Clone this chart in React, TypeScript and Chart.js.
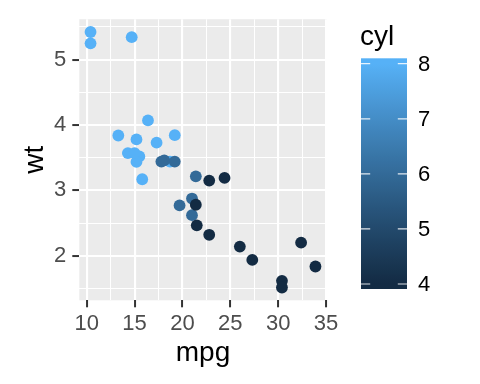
import React, { useEffect, useRef } from "react";
import { Chart, registerables } from "chart.js";

Chart.register(...registerables);

const mpg = [21, 21, 22.8, 21.4, 18.7, 18.1, 14.3, 24.4, 22.8, 19.2, 17.8, 16.4, 17.3, 15.2, 10.4, 10.4, 14.7, 32.4, 30.4, 33.9, 21.5, 15.5, 15.2, 13.3, 19.2, 27.3, 26, 30.4, 15.8, 19.7, 15, 21.4];
const wt = [2.62, 2.875, 2.32, 3.215, 3.44, 3.46, 3.57, 3.19, 3.15, 3.44, 3.44, 4.07, 3.73, 3.78, 5.25, 5.424, 5.345, 2.2, 1.615, 1.835, 2.465, 3.52, 3.435, 3.84, 3.845, 1.935, 2.14, 1.513, 3.17, 2.77, 3.57, 2.78];
const cyl = [6, 6, 4, 6, 8, 6, 8, 4, 4, 6, 6, 8, 8, 8, 8, 8, 8, 4, 4, 4, 4, 8, 8, 8, 8, 4, 4, 4, 8, 6, 8, 4];

const xMajor = [10, 15, 20, 25, 30, 35];
const xMinor = [12.5, 17.5, 22.5, 27.5, 32.5];
const yMajor = [2, 3, 4, 5];
const yMinor = [1.5, 2.5, 3.5, 4.5, 5.5];
const legendTicks = [4, 5, 6, 7, 8];

const LOW = "#132B43";
const HIGH = "#56B1F7";
const FONT = "'Liberation Sans', Arial, Helvetica, sans-serif";

// --- Lab interpolation (ggplot2 seq_gradient_pal style) ---
function hexToRgb(h: string) {
  return [1, 3, 5].map((i) => parseInt(h.slice(i, i + 2), 16) / 255);
}
function lin(c: number) { return c <= 0.04045 ? c / 12.92 : Math.pow((c + 0.055) / 1.055, 2.4); }
function gam(c: number) { return c <= 0.0031308 ? 12.92 * c : 1.055 * Math.pow(c, 1 / 2.4) - 0.055; }
const WX = 0.95047, WY = 1.0, WZ = 1.08883;
function rgbToLab(rgb: number[]) {
  const [r, g, b] = rgb.map(lin);
  const x = (r * 0.4124564 + g * 0.3575761 + b * 0.1804375) / WX;
  const y = (r * 0.2126729 + g * 0.7151522 + b * 0.072175) / WY;
  const z = (r * 0.0193339 + g * 0.119192 + b * 0.9503041) / WZ;
  const f = (t: number) => (t > 216 / 24389 ? Math.cbrt(t) : (24389 / 27 * t + 16) / 116);
  const fx = f(x), fy = f(y), fz = f(z);
  return [116 * fy - 16, 500 * (fx - fy), 200 * (fy - fz)];
}
function labToHex(lab: number[]) {
  const [L, a, bb] = lab;
  const fy = (L + 16) / 116, fx = fy + a / 500, fz = fy - bb / 200;
  const inv = (t: number) => (t * t * t > 216 / 24389 ? t * t * t : (116 * t - 16) / (24389 / 27));
  const x = inv(fx) * WX, y = inv(fy) * WY, z = inv(fz) * WZ;
  const r = x * 3.2404542 - y * 1.5371385 - z * 0.4985314;
  const g = -x * 0.969266 + y * 1.8760108 + z * 0.041556;
  const b = x * 0.0556434 - y * 0.2040259 + z * 1.0572252;
  const to = (c: number) => Math.round(Math.max(0, Math.min(1, gam(c))) * 255).toString(16).padStart(2, "0");
  return "#" + to(r) + to(g) + to(b);
}
const labLow = rgbToLab(hexToRgb(LOW));
const labHigh = rgbToLab(hexToRgb(HIGH));
function pal(t: number) {
  return labToHex(labLow.map((v, i) => v + (labHigh[i] - v) * t));
}
const cMin = Math.min(...cyl), cMax = Math.max(...cyl);
const colorFor = (c: number) => pal((c - cMin) / (cMax - cMin));

function expand(arr: number[]) {
  const lo = Math.min(...arr), hi = Math.max(...arr);
  const d = (hi - lo) * 0.05;
  return [lo - d, hi + d];
}

export default function App() {
  const ref = useRef<HTMLCanvasElement | null>(null);
  useEffect(() => {
    document.body.style.margin = "0";
    const [xMin, xMax] = expand(mpg);
    const [yMin, yMax] = expand(wt);
    const points = mpg.map((m, i) => ({ x: m, y: wt[i] }));
    const colors = cyl.map(colorFor);

    const isMajorX = (v: number) => xMajor.includes(v);
    const isMajorY = (v: number) => yMajor.includes(v);

    const panelBg = {
      id: "panelBg",
      beforeDraw(chart: any) {
        const { ctx, chartArea: a } = chart;
        ctx.save();
        ctx.fillStyle = "#EBEBEB";
        ctx.fillRect(a.left, a.top, a.right - a.left, a.bottom - a.top);
        ctx.restore();
      },
    };

    const colorbar = {
      id: "colorbar",
      afterDraw(chart: any) {
        const ctx = chart.ctx;
        const x0 = 361, x1 = 407, vTop = 63.7, vBot = 284;
        const per = (vBot - vTop) / (cMax - cMin);
        const yTop = vTop - 5.4, yBot = vBot + 5;
        ctx.save();
        const grad = ctx.createLinearGradient(0, yTop, 0, yBot);
        const n = 40;
        for (let i = 0; i <= n; i++) {
          const y = yTop + ((yBot - yTop) * i) / n;
          const v = cMax - (y - vTop) / per;
          const t = Math.max(0, Math.min(1, (v - cMin) / (cMax - cMin)));
          grad.addColorStop(i / n, pal(t));
        }
        ctx.fillStyle = grad;
        ctx.fillRect(x0, yTop, x1 - x0, yBot - yTop);
        ctx.strokeStyle = "rgba(255,255,255,0.85)";
        ctx.lineWidth = 1.2;
        const tl = (x1 - x0) / 5;
        ctx.font = `22px ${FONT}`;
        ctx.textBaseline = "middle";
        ctx.textAlign = "left";
        legendTicks.forEach((v) => {
          const y = vBot - (v - cMin) * per;
          ctx.beginPath();
          ctx.moveTo(x0, y); ctx.lineTo(x0 + tl, y);
          ctx.moveTo(x1 - tl, y); ctx.lineTo(x1, y);
          ctx.stroke();
          ctx.fillStyle = "#000000";
          ctx.fillText(String(v), 418, y + 1);
        });
        ctx.font = `28px ${FONT}`;
        ctx.textBaseline = "alphabetic";
        ctx.fillStyle = "#000000";
        ctx.fillText("cyl", 360, 45);
        ctx.restore();
      },
    };

    const chart = new Chart(ref.current as HTMLCanvasElement, {
      type: "scatter",
      data: {
        datasets: [
          {
            data: points,
            backgroundColor: colors,
            borderColor: colors,
            borderWidth: 0,
            pointRadius: 5.9,
          },
        ],
      },
      options: {
        animation: false,
        responsive: false,
        layout: { padding: { top: 15, right: 153.3, left: 0, bottom: 0 } },
        plugins: { legend: { display: false }, tooltip: { enabled: false } },
        scales: {
          x: {
            type: "linear",
            min: xMin,
            max: xMax,
            afterBuildTicks: (axis: any) => {
              axis.ticks = [...xMajor, ...xMinor].sort((a, b) => a - b).map((v) => ({ value: v }));
            },
            afterFit: (axis: any) => { axis.height = 83.7; },
            grid: {
              color: "#FFFFFF",
              lineWidth: (ctx: any) => (isMajorX(ctx.tick?.value) ? 2.1 : 1.05),
              tickLength: 7,
              tickColor: (ctx: any) => (isMajorX(ctx.tick?.value) ? "#333333" : "rgba(0,0,0,0)"),
              tickWidth: 2,
            },
            border: { display: false },
            ticks: {
              autoSkip: false,
              maxRotation: 0,
              padding: 3,
              color: "#4D4D4D",
              font: { family: FONT, size: 22 },
              callback: (v: any) => (isMajorX(v) ? String(v) : ""),
            },
            title: {
              display: true,
              text: "mpg",
              color: "#000000",
              font: { family: FONT, size: 28 },
              padding: { top: 0, bottom: 14 },
            },
          },
          y: {
            type: "linear",
            min: yMin,
            max: yMax,
            afterBuildTicks: (axis: any) => {
              axis.ticks = [...yMajor, ...yMinor].sort((a, b) => a - b).map((v) => ({ value: v }));
            },
            afterFit: (axis: any) => { axis.width = 79.3; },
            grid: {
              color: "#FFFFFF",
              lineWidth: (ctx: any) => (isMajorY(ctx.tick?.value) ? 2.1 : 1.05),
              tickLength: 7,
              tickColor: (ctx: any) => (isMajorY(ctx.tick?.value) ? "#333333" : "rgba(0,0,0,0)"),
              tickWidth: 2,
            },
            border: { display: false },
            ticks: {
              autoSkip: false,
              padding: 6,
              color: "#4D4D4D",
              font: { family: FONT, size: 22 },
              callback: (v: any) => (isMajorY(v) ? String(v) : ""),
            },
            title: {
              display: true,
              text: "wt",
              color: "#000000",
              font: { family: FONT, size: 28 },
              padding: { top: 18, bottom: 0 },
            },
          },
        },
      },
      plugins: [panelBg, colorbar],
    } as any);
    return () => chart.destroy();
  }, []);
  return <canvas ref={ref} width={480} height={384} style={{ display: "block" }} />;
}
